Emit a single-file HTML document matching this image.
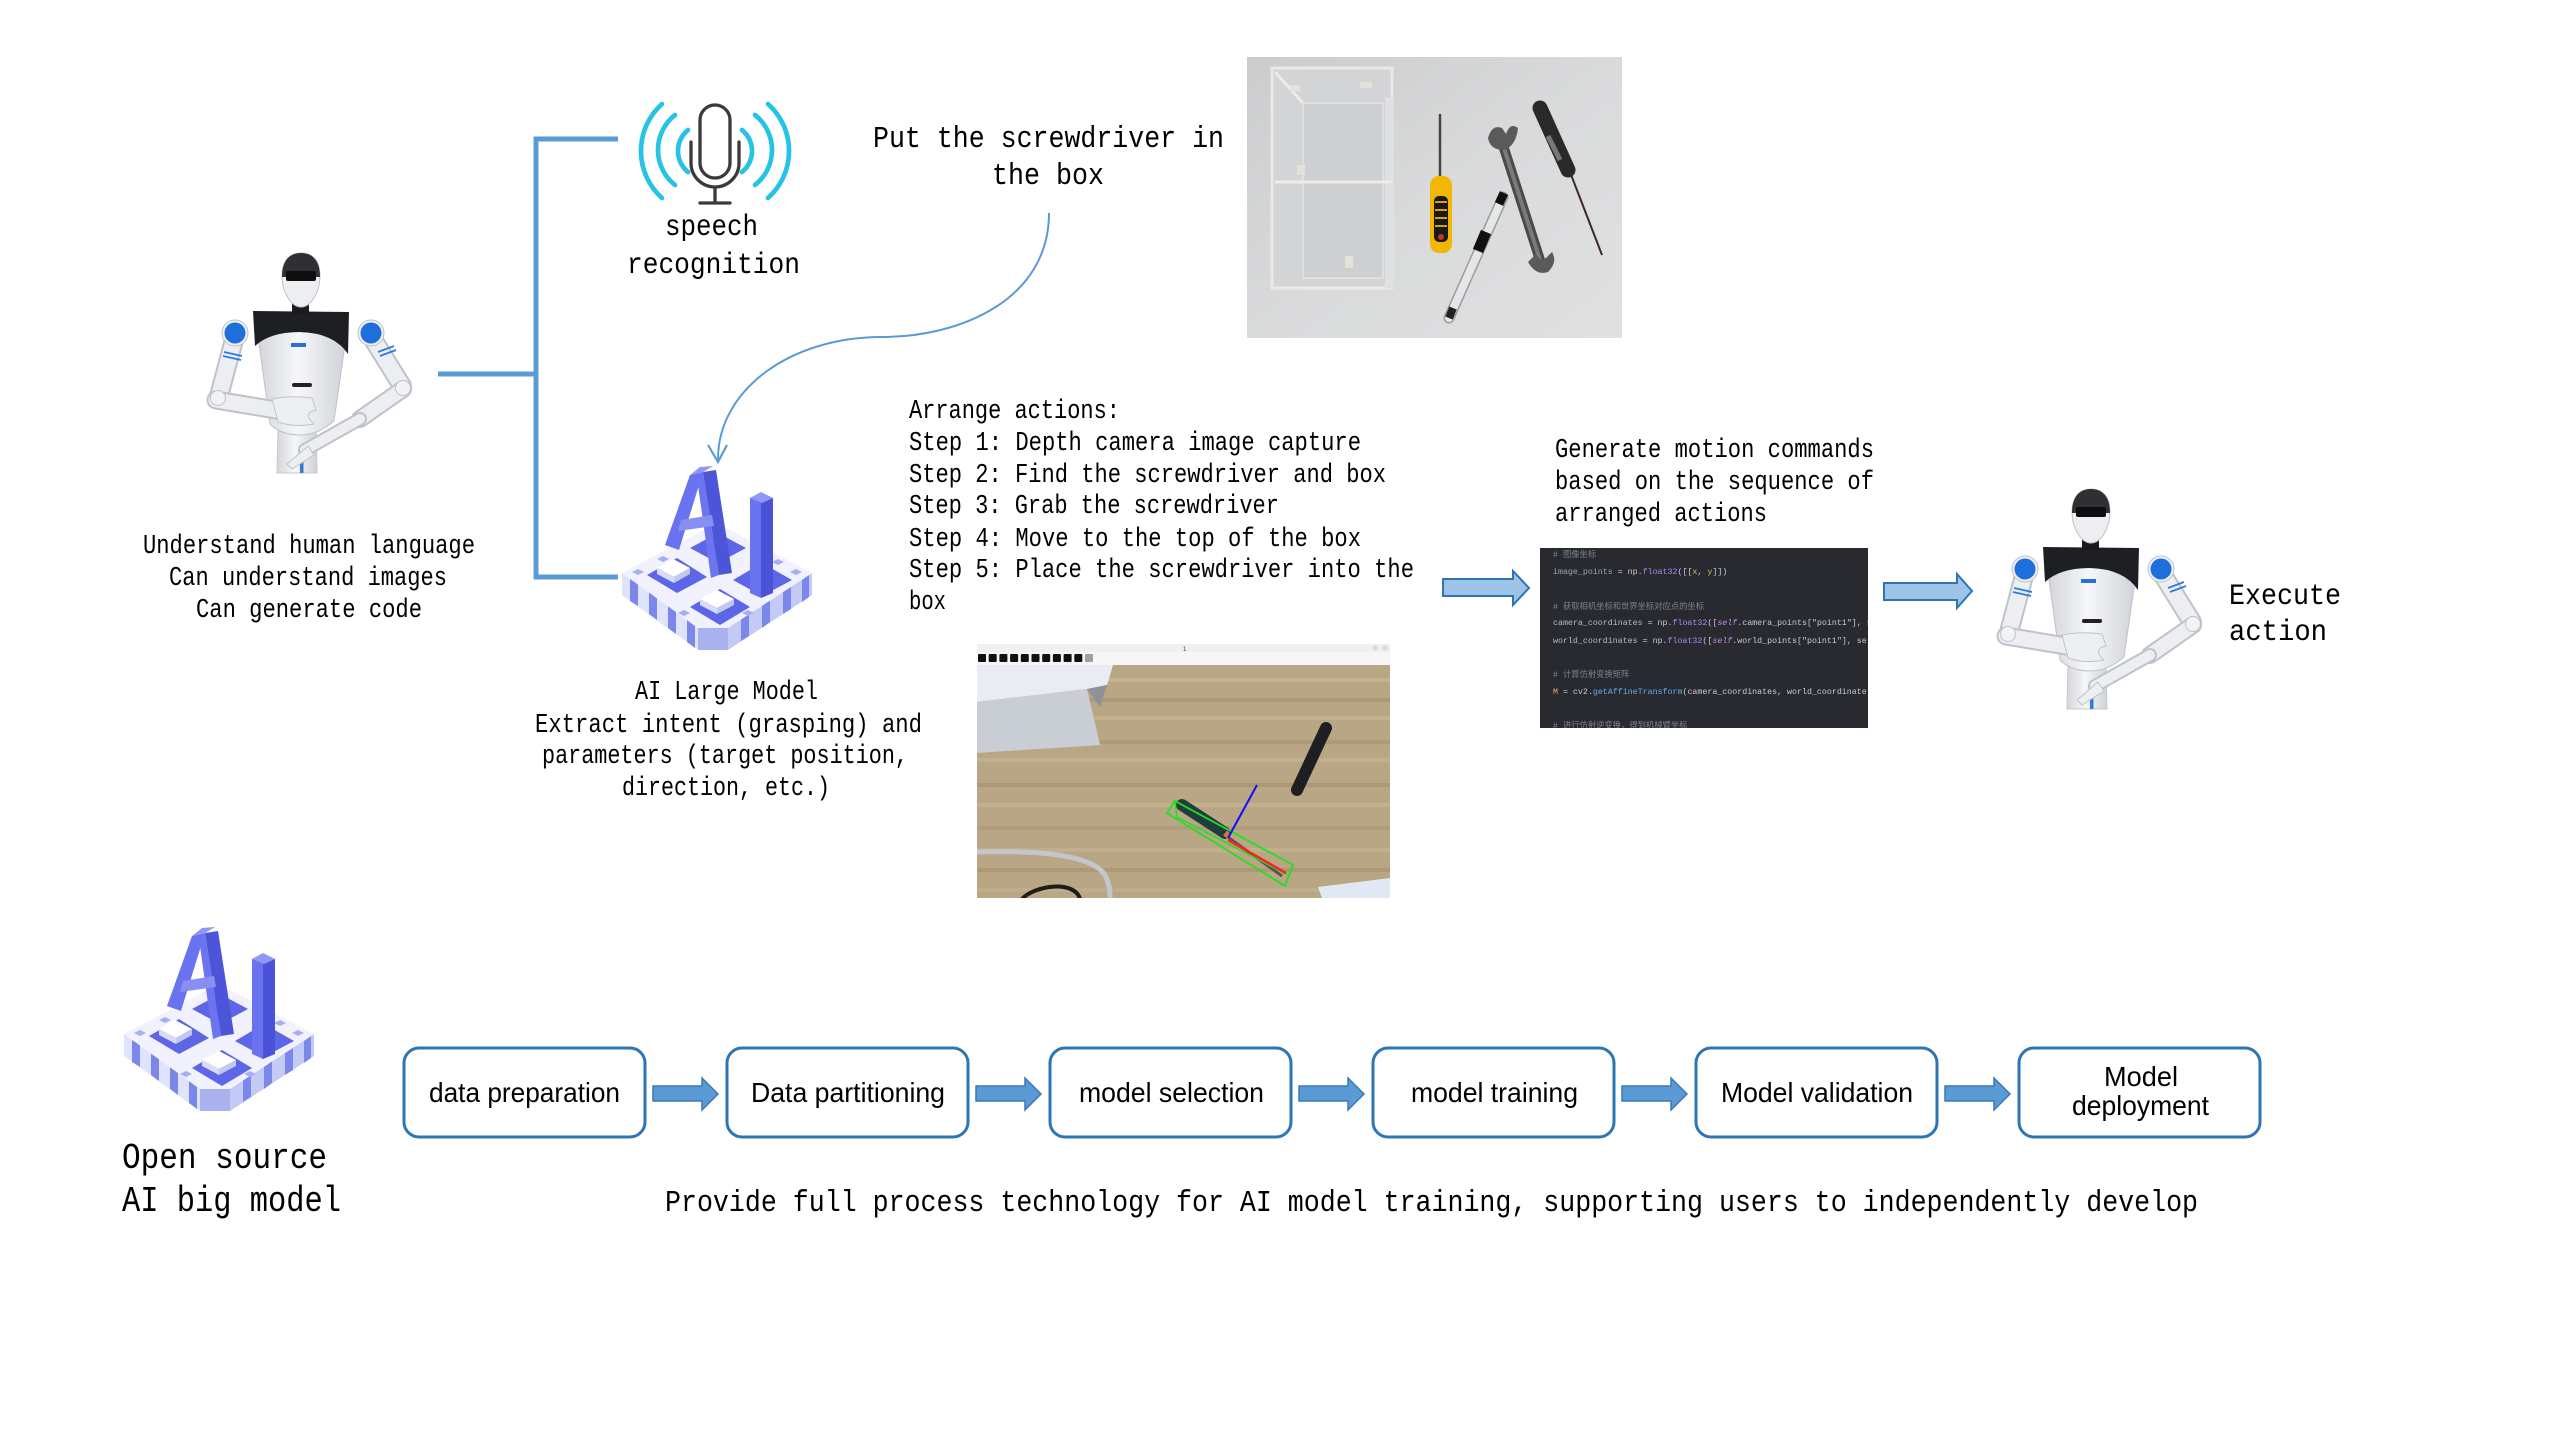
<!DOCTYPE html>
<html>
<head>
<meta charset="utf-8">
<style>
html,body{margin:0;padding:0;background:#fff;overflow:hidden;}
svg{display:block;}
.m{font-family:"Liberation Mono","DejaVu Sans Mono","Noto Sans CJK SC",monospace;fill:#000;}
.s{font-family:"Liberation Sans",Arial,sans-serif;fill:#000;}
.c{font-family:"Liberation Mono","Noto Sans CJK SC",monospace;font-size:8.3px;}
</style>
</head>
<body>
<svg width="2560" height="1440" viewBox="0 0 2560 1440" xmlns="http://www.w3.org/2000/svg">
<defs>
  <linearGradient id="photoBg" x1="0" y1="0" x2="1" y2="1">
    <stop offset="0" stop-color="#cbcccd"/>
    <stop offset="0.5" stop-color="#d9dadb"/>
    <stop offset="1" stop-color="#e0e0e1"/>
  </linearGradient>
  <linearGradient id="torsoG" x1="0" y1="0" x2="1" y2="0">
    <stop offset="0" stop-color="#d3d5da"/>
    <stop offset="0.45" stop-color="#f6f7f9"/>
    <stop offset="1" stop-color="#cfd2d7"/>
  </linearGradient>
  <linearGradient id="armG" x1="0" y1="0" x2="1" y2="0">
    <stop offset="0" stop-color="#d9dbdf"/>
    <stop offset="1" stop-color="#f7f7f9"/>
  </linearGradient>
  <clipPath id="photoClip"><rect x="1247" y="57" width="375" height="281"/></clipPath>
  <clipPath id="shotClip"><rect x="977" y="644" width="413" height="254"/></clipPath>
  <clipPath id="codeClip"><rect x="1540" y="548" width="328" height="180"/></clipPath>

  <g id="robot">
    <path d="M278,425 H316 L317,473 H277 Z" fill="url(#torsoG)" stroke="#c6c9ce"/>
    <rect x="300" y="452" width="3.5" height="21" fill="#2e7be0"/>
    <path d="M258,336 Q300,326 346,338 L334,421 Q318,435 300,435 Q281,435 270,424 Z" fill="url(#torsoG)" stroke="#bfc2c8"/>
    <path d="M253,311 L349,312 L348,354 Q334,333 300,332 Q270,332 255,346 Z" fill="#1e1f22"/>
    <rect x="292" y="302" width="17" height="12" fill="#1a1a1a"/>
    <path d="M282,276 C282,259 291,253 301,253 C312,253 320,260 320,276 C320,292 311,307 301,307 C291,307 282,292 282,276 Z" fill="#eceef1" stroke="#bfc2c8"/>
    <path d="M282,277 C282,259 291,253 301,253 C312,253 320,260 320,277 Z" fill="#2e3034"/>
    <rect x="286" y="271" width="30" height="10" rx="2" fill="#0d0d0d"/>
    <rect x="291" y="343" width="15" height="4" fill="#2a6fd6"/>
    <rect x="292" y="383" width="20" height="4" rx="2" fill="#222"/>
    <g stroke-linecap="round" fill="none">
      <path d="M235,336 L219,396" stroke="#bfc2c8" stroke-width="20"/>
      <path d="M235,336 L219,396" stroke="#eceef1" stroke-width="16"/>
      <path d="M216,400 L276,410" stroke="#bfc2c8" stroke-width="19"/>
      <path d="M216,400 L276,410" stroke="#eceef1" stroke-width="15"/>
      <path d="M371,336 L402,386" stroke="#bfc2c8" stroke-width="20"/>
      <path d="M371,336 L402,386" stroke="#eceef1" stroke-width="16"/>
      <path d="M403,389 L360,419" stroke="#bfc2c8" stroke-width="18"/>
      <path d="M403,389 L360,419" stroke="#eceef1" stroke-width="14"/>
      <path d="M360,419 L305,450" stroke="#bfc2c8" stroke-width="14"/>
      <path d="M360,419 L305,450" stroke="#eceef1" stroke-width="10"/>
    </g>
    <path d="M224,352 L242,356 M223,356 L241,360" stroke="#2e7be0" stroke-width="1.8"/>
    <path d="M378,352 L394,346 M380,356 L396,350" stroke="#2e7be0" stroke-width="1.8"/>
    <path d="M272,399 Q292,395 312,398 L316,410 Q302,413 314,424 Q295,428 278,422 Z" fill="#eceef1" stroke="#bfc2c8"/>
    <path d="M308,446 L287,464 L292,469 L314,455 Z" fill="#eceef1" stroke="#bfc2c8"/>
    <circle cx="403" cy="388" r="7.5" fill="#f2f3f5" stroke="#bfc2c8"/>
    <circle cx="218" cy="398" r="7.5" fill="#f2f3f5" stroke="#bfc2c8"/>
    <circle cx="235" cy="333" r="13" fill="#eef0f3" stroke="#bfc2c8"/>
    <circle cx="235" cy="333" r="10.5" fill="#1f6fdb"/>
    <circle cx="371" cy="333" r="13" fill="#eef0f3" stroke="#bfc2c8"/>
    <circle cx="371" cy="333" r="10.5" fill="#1f6fdb"/>
  </g>

  <g id="ailogo">
    <polygon points="622,573 698,628 698,650 622,595" fill="#dfe3fb"/>
    <polygon points="698,628 728,628 728,650 698,650" fill="#a9b2ef"/>
    <polygon points="728,628 812,573 812,595 728,650" fill="#c3caf5"/>
    <g fill="#7c87ea">
      <polygon points="630,579 638,584 638,606 630,601"/>
      <polygon points="649,592 657,598 657,620 649,614"/>
      <polygon points="668,606 676,612 676,634 668,628"/>
      <polygon points="687,620 695,626 695,648 687,642"/>
      <polygon points="741,619 749,614 749,636 741,641"/>
      <polygon points="762,606 770,600 770,622 762,628"/>
      <polygon points="783,592 791,587 791,609 783,614"/>
      <polygon points="802,580 809,575 809,597 802,602"/>
    </g>
    <polygon points="622,573 717,523 812,573 728,628 698,628" fill="#f1f2fd"/>
    <g fill="#a6aef4">
      <polygon points="632,572 638,569 644,572 638,575"/>
      <polygon points="657,559 663,556 669,559 663,562"/>
      <polygon points="790,572 796,569 802,572 796,575"/>
      <polygon points="772,562 778,559 784,562 778,565"/>
      <polygon points="742,613 748,610 754,613 748,616"/>
      <polygon points="678,613 684,610 690,613 684,616"/>
    </g>
    <polygon points="647,575 677,558 707,577 677,593" fill="#5d66e6"/>
    <polygon points="657,568 673,559 690,568 674,577" fill="#ffffff"/>
    <polygon points="657,568 674,577 674,583 657,574" fill="#d9dcf5"/>
    <polygon points="674,577 690,568 690,574 674,583" fill="#c3c8ef"/>
    <polygon points="690,607 720,589 750,607 720,625" fill="#5d66e6"/>
    <polygon points="700,599 717,590 734,599 717,608" fill="#ffffff"/>
    <polygon points="700,599 717,608 717,614 700,605" fill="#d9dcf5"/>
    <polygon points="717,608 734,599 734,605 717,614" fill="#c3c8ef"/>
    <polygon points="733,580 762,563 792,580 762,596" fill="#5d66e6"/>
    <polygon points="690,548 718,533 746,548 718,563" fill="#5d66e6"/>
    <polygon points="665,545 690,475 703,472 679,550" fill="#6a73ef"/>
    <polygon points="697,478 703,472 719,575 711,578" fill="#6c75ef"/>
    <polygon points="703,472 716,470 732,573 719,575" fill="#4c55d8"/>
    <polygon points="681,520 712,515 714,526 678,531" fill="#8790f2"/>
    <polygon points="690,475 700,467 713,466 703,472" fill="#8e96f5"/>
    <polygon points="750,498 761,493 761,598 750,593" fill="#6a73ef"/>
    <polygon points="761,493 773,498 773,593 761,598" fill="#4a52d6"/>
    <polygon points="750,498 761,492 773,498 762,503" fill="#9098f6"/>
  </g>
</defs>

<rect width="2560" height="1440" fill="#fff"/>

<!-- bracket -->
<g stroke="#5b9bd5" stroke-width="5" fill="none">
  <path d="M618,139 H536 V577 H618"/>
  <path d="M438,374 H536"/>
</g>

<!-- robots -->
<use href="#robot"/>
<use href="#robot" transform="translate(1790,236)"/>

<!-- mic icon -->
<g fill="none" stroke-linecap="round">
  <g stroke="#27c3e6" stroke-width="4.7">
    <path d="M662,104 A63,63 0 0 0 662,198"/>
    <path d="M675,115 A44.5,44.5 0 0 0 675,185"/>
    <path d="M688,130 A27,27 0 0 0 688,172"/>
    <path d="M768,104 A63,63 0 0 1 768,198"/>
    <path d="M755,115 A44.5,44.5 0 0 1 755,185"/>
    <path d="M742,130 A27,27 0 0 1 742,172"/>
  </g>
  <g stroke="#3a3a3a" stroke-width="3.3">
    <rect x="700" y="105" width="30" height="73" rx="15"/>
    <path d="M691,142 V163 A24,24 0 0 0 739,163 V142"/>
    <path d="M715,187 V203 M700,203 H730"/>
  </g>
</g>

<!-- AI logos -->
<use href="#ailogo"/>
<use href="#ailogo" transform="translate(-498,461)"/>

<!-- curved arrow -->
<path d="M1049,213 C1049,300 960,337 882,337 C790,337 718,390 718,459" stroke="#5b9bd5" stroke-width="2" fill="none"/>
<path d="M708,445 L718,462 L727,445" stroke="#5b9bd5" stroke-width="2.2" fill="none"/>

<!-- photo -->
<g clip-path="url(#photoClip)">
  <rect x="1247" y="57" width="375" height="281" fill="url(#photoBg)"/>
  <rect x="1272" y="68" width="120" height="220" fill="#d3d4d6" stroke="#e9e9e9" stroke-width="3"/>
  <rect x="1303" y="103" width="80" height="175" fill="#cdcfd1" stroke="#dedfe0" stroke-width="2"/>
  <rect x="1385" y="97" width="8" height="191" fill="#dfe0e2"/>
  <path d="M1275,72 L1303,103 M1275,182 H1392" stroke="#ececec" stroke-width="3"/>
  <rect x="1290" y="85" width="10" height="6" fill="#e4e2d8"/>
  <rect x="1360" y="82" width="12" height="6" fill="#e4e2d8"/>
  <rect x="1297" y="165" width="8" height="10" fill="#e4e2d8"/>
  <rect x="1345" y="256" width="8" height="12" fill="#e4e2d8"/>
  <path d="M1440,114 L1440,178" stroke="#444" stroke-width="2.5"/>
  <rect x="1430" y="176" width="22" height="77" rx="9" fill="#f2b705"/>
  <rect x="1434" y="196" width="14" height="46" rx="5" fill="#1a1a1a"/>
  <path d="M1435,202 H1447 M1435,210 H1447 M1435,218 H1447 M1435,226 H1447" stroke="#d9a204" stroke-width="2"/>
  <circle cx="1441" cy="237" r="3" fill="#c0392b"/>
  <path d="M1503,197 L1449,318" stroke="#9a9c9e" stroke-width="11" stroke-linecap="round"/>
  <path d="M1503,197 L1449,318" stroke="#e4e6e8" stroke-width="8" stroke-linecap="round"/>
  <path d="M1486,232 L1478,251" stroke="#111" stroke-width="11"/>
  <path d="M1504,193 L1499,204" stroke="#111" stroke-width="9"/>
  <path d="M1453,308 L1449,318" stroke="#222" stroke-width="8"/>
  <path d="M1502,142 L1540,260" stroke="#4a4a4a" stroke-width="10" stroke-linecap="round"/>
  <path d="M1502,142 L1540,260" stroke="#7a7a7a" stroke-width="4"/>
  <path d="M1488,138 Q1492,124 1502,128 L1506,134 Q1510,122 1518,128 Q1516,146 1504,150 Q1490,150 1488,138 Z" fill="#5a5a5a"/>
  <path d="M1528,262 Q1536,276 1548,272 Q1558,262 1552,252 L1546,258 Q1540,262 1536,254 Z" fill="#5a5a5a"/>
  <path d="M1540,108 L1568,170" stroke="#2a2a2a" stroke-width="15" stroke-linecap="round"/>
  <path d="M1548,136 L1560,160" stroke="#787878" stroke-width="5"/>
  <path d="M1570,172 L1602,255" stroke="#3a2a22" stroke-width="2"/>
</g>

<!-- steps text -->
<g class="m" font-size="27">
  <text x="909" y="418" textLength="211" lengthAdjust="spacingAndGlyphs">Arrange actions:</text>
  <text x="909" y="450" textLength="452" lengthAdjust="spacingAndGlyphs">Step 1: Depth camera image capture</text>
  <text x="909" y="482" textLength="477" lengthAdjust="spacingAndGlyphs">Step 2: Find the screwdriver and box</text>
  <text x="909" y="513" textLength="370" lengthAdjust="spacingAndGlyphs">Step 3: Grab the screwdriver</text>
  <text x="909" y="546" textLength="452" lengthAdjust="spacingAndGlyphs">Step 4: Move to the top of the box</text>
  <text x="909" y="577" textLength="505" lengthAdjust="spacingAndGlyphs">Step 5: Place the screwdriver into the</text>
  <text x="909" y="609" textLength="37" lengthAdjust="spacingAndGlyphs">box</text>
</g>

<!-- middle screenshot -->
<g clip-path="url(#shotClip)">
  <rect x="977" y="644" width="413" height="254" fill="#b9a684"/>
  <g stroke-width="4" opacity="0.55">
    <path d="M977,680 H1390" stroke="#cfbd99"/>
    <path d="M977,700 H1390" stroke="#a28c6c"/>
    <path d="M977,718 H1390" stroke="#cebc98"/>
    <path d="M977,742 H1390" stroke="#a89372"/>
    <path d="M977,760 H1390" stroke="#cab794"/>
    <path d="M977,785 H1390" stroke="#a38d6c"/>
    <path d="M977,805 H1390" stroke="#ccb996"/>
    <path d="M977,828 H1390" stroke="#ab9674"/>
    <path d="M977,850 H1390" stroke="#c8b592"/>
    <path d="M977,870 H1390" stroke="#a6906e"/>
    <path d="M977,890 H1390" stroke="#c5b18e"/>
  </g>
  <polygon points="977,665 1113,665 1107,685 1087,689 977,702" fill="#e9edf3"/>
  <polygon points="977,702 1087,689 1100,745 977,753" fill="#c9cdd4"/>
  <polygon points="1087,689 1107,685 1100,707" fill="#8d9299"/>
  <path d="M977,852 C1040,850 1092,855 1105,875 C1110,885 1110,893 1110,898" stroke="#c3c7cc" stroke-width="5" fill="none"/>
  <path d="M1022,899 C1035,885 1075,880 1080,899" stroke="#1c1c1c" stroke-width="4" fill="none"/>
  <polygon points="1318,887 1390,878 1390,898 1322,898" fill="#e2e8f3"/>
  <path d="M1326,728 L1297,790" stroke="#1d1f22" stroke-width="12" stroke-linecap="round"/>
  <path d="M1182,805 L1225,833" stroke="#1f3d3a" stroke-width="12" stroke-linecap="round"/>
  <path d="M1225,833 L1230,837" stroke="#d4793a" stroke-width="6"/>
  <path d="M1229,838 L1282,876" stroke="#555" stroke-width="3"/>
  <polygon points="1167,813 1175,801 1293,865 1285,886" fill="none" stroke="#22e022" stroke-width="1.8"/>
  <path d="M1177,817 L1288,875 M1175,801 L1177,817" stroke="#22e022" stroke-width="1.5" fill="none"/>
  <path d="M1228,840 L1286,873" stroke="#ff2020" stroke-width="2.5"/>
  <path d="M1228,838 L1257,785" stroke="#1010ff" stroke-width="2"/>
  <rect x="977" y="644" width="413" height="8" fill="#f0f0f0"/>
  <rect x="977" y="652" width="413" height="13" fill="#f6f6f6"/>
  <text x="1183" y="651" font-family="Liberation Sans,sans-serif" font-size="6" fill="#444">1</text>
  <circle cx="1375" cy="648" r="2.5" fill="#d8d8d8"/>
  <circle cx="1385" cy="648" r="2.5" fill="#d8d8d8"/>
  <g fill="#111">
    <rect x="978" y="654" width="8" height="8" rx="1"/>
    <rect x="988.7" y="654" width="8" height="8" rx="1"/>
    <rect x="999.4" y="654" width="8" height="8" rx="1"/>
    <rect x="1010.1" y="654" width="8" height="8" rx="1"/>
    <rect x="1020.8" y="654" width="8" height="8" rx="1"/>
    <rect x="1031.5" y="654" width="8" height="8" rx="1"/>
    <rect x="1042.2" y="654" width="8" height="8" rx="1"/>
    <rect x="1052.9" y="654" width="8" height="8" rx="1"/>
    <rect x="1063.6" y="654" width="8" height="8" rx="1"/>
    <rect x="1074.3" y="654" width="8" height="8" rx="1"/>
  </g>
  <rect x="1085" y="654" width="8" height="8" rx="1" fill="#a0a0a0"/>
</g>

<!-- code screenshot -->
<g clip-path="url(#codeClip)">
  <rect x="1540" y="548" width="328" height="180" fill="#282a30"/>
  <g class="c">
    <text x="1553" y="557" fill="#7d828c"># 图像坐标</text>
    <text x="1553" y="574"><tspan fill="#9aa3b5">image_points</tspan><tspan fill="#c8ccd4"> = np.</tspan><tspan fill="#a68bf0">float32</tspan><tspan fill="#c8ccd4">([[</tspan><tspan fill="#d9b86a">x</tspan><tspan fill="#c8ccd4">, </tspan><tspan fill="#d9b86a">y</tspan><tspan fill="#c8ccd4">]])</tspan></text>
    <text x="1553" y="609" fill="#7d828c"># 获取相机坐标和世界坐标对应点的坐标</text>
    <text x="1553" y="625"><tspan fill="#b4bccb">camera_coordinates</tspan><tspan fill="#c8ccd4"> = np.</tspan><tspan fill="#a68bf0">float32</tspan><tspan fill="#c8ccd4">([</tspan><tspan fill="#c58be8" font-style="italic">self</tspan><tspan fill="#c8ccd4">.camera_points["point1"], s</tspan></text>
    <text x="1553" y="643"><tspan fill="#b4bccb">world_coordinates</tspan><tspan fill="#c8ccd4"> = np.</tspan><tspan fill="#a68bf0">float32</tspan><tspan fill="#c8ccd4">([</tspan><tspan fill="#c58be8" font-style="italic">self</tspan><tspan fill="#c8ccd4">.world_points["point1"], se</tspan></text>
    <text x="1553" y="677" fill="#7d828c"># 计算仿射变换矩阵</text>
    <text x="1553" y="694"><tspan fill="#d9b86a">M</tspan><tspan fill="#c8ccd4"> = cv2.</tspan><tspan fill="#61afef">getAffineTransform</tspan><tspan fill="#c8ccd4">(camera_coordinates, world_coordinate</tspan></text>
    <text x="1553" y="728" fill="#7d828c"># 进行仿射逆变换，得到机械臂坐标</text>
  </g>
</g>

<!-- top block arrows -->
<path d="M1443,579 H1513 V571 L1529,588 L1513,605 V596 H1443 Z" fill="#9dc3e6" stroke="#2e75b6" stroke-width="2"/>
<path d="M1884,583 H1957 V574 L1972,591 L1957,608 V600 H1884 Z" fill="#9dc3e6" stroke="#2e75b6" stroke-width="2"/>

<!-- texts -->
<g class="m">
  <text x="665" y="235" font-size="30" textLength="93" lengthAdjust="spacingAndGlyphs">speech</text>
  <text x="627" y="273" font-size="30" textLength="173" lengthAdjust="spacingAndGlyphs">recognition</text>
  <text x="873" y="147" font-size="31" textLength="351" lengthAdjust="spacingAndGlyphs">Put the screwdriver in</text>
  <text x="992" y="184" font-size="31" textLength="112" lengthAdjust="spacingAndGlyphs">the box</text>
  <text x="143" y="553" font-size="27" textLength="332" lengthAdjust="spacingAndGlyphs">Understand human language</text>
  <text x="169" y="585" font-size="27" textLength="278" lengthAdjust="spacingAndGlyphs">Can understand images</text>
  <text x="196" y="617" font-size="27" textLength="226" lengthAdjust="spacingAndGlyphs">Can generate code</text>
  <text x="635" y="699" font-size="27" textLength="183" lengthAdjust="spacingAndGlyphs">AI Large Model</text>
  <text x="535" y="732" font-size="27" textLength="387" lengthAdjust="spacingAndGlyphs">Extract intent (grasping) and</text>
  <text x="542" y="763" font-size="27" textLength="366" lengthAdjust="spacingAndGlyphs">parameters (target position,</text>
  <text x="622" y="795" font-size="27" textLength="208" lengthAdjust="spacingAndGlyphs">direction, etc.)</text>
  <text x="1555" y="457" font-size="27" textLength="319" lengthAdjust="spacingAndGlyphs">Generate motion commands</text>
  <text x="1555" y="489" font-size="27" textLength="319" lengthAdjust="spacingAndGlyphs">based on the sequence of</text>
  <text x="1555" y="521" font-size="27" textLength="212" lengthAdjust="spacingAndGlyphs">arranged actions</text>
  <text x="2229" y="604" font-size="30" textLength="112" lengthAdjust="spacingAndGlyphs">Execute</text>
  <text x="2229" y="640" font-size="30" textLength="98" lengthAdjust="spacingAndGlyphs">action</text>
  <text x="122" y="1168" font-size="36" textLength="205" lengthAdjust="spacingAndGlyphs">Open source</text>
  <text x="122" y="1211" font-size="36" textLength="219" lengthAdjust="spacingAndGlyphs">AI big model</text>
  <text x="665" y="1211" font-size="31" textLength="1533" lengthAdjust="spacingAndGlyphs">Provide full process technology for AI model training, supporting users to independently develop</text>
</g>

<!-- process boxes -->
<g fill="#fff" stroke="#2e75b6" stroke-width="3">
  <rect x="404" y="1048" width="241" height="89" rx="15"/>
  <rect x="727" y="1048" width="241" height="89" rx="15"/>
  <rect x="1050" y="1048" width="241" height="89" rx="15"/>
  <rect x="1373" y="1048" width="241" height="89" rx="15"/>
  <rect x="1696" y="1048" width="241" height="89" rx="15"/>
  <rect x="2019" y="1048" width="241" height="89" rx="15"/>
</g>
<g fill="#5b9bd5" stroke="#3c78b5" stroke-width="1.5">
  <path d="M653,1086 H702 V1078 L718,1094 L702,1110 V1101 H653 Z"/>
  <path d="M976,1086 H1025 V1078 L1041,1094 L1025,1110 V1101 H976 Z"/>
  <path d="M1299,1086 H1348 V1078 L1364,1094 L1348,1110 V1101 H1299 Z"/>
  <path d="M1622,1086 H1671 V1078 L1687,1094 L1671,1110 V1101 H1622 Z"/>
  <path d="M1945,1086 H1994 V1078 L2010,1094 L1994,1110 V1101 H1945 Z"/>
</g>
<g class="s" font-size="28">
  <text x="429" y="1102" textLength="191" lengthAdjust="spacingAndGlyphs">data preparation</text>
  <text x="751" y="1102" textLength="194" lengthAdjust="spacingAndGlyphs">Data partitioning</text>
  <text x="1079" y="1102" textLength="185" lengthAdjust="spacingAndGlyphs">model selection</text>
  <text x="1411" y="1102" textLength="167" lengthAdjust="spacingAndGlyphs">model training</text>
  <text x="1721" y="1102" textLength="192" lengthAdjust="spacingAndGlyphs">Model validation</text>
  <text x="2104" y="1086" textLength="74" lengthAdjust="spacingAndGlyphs">Model</text>
  <text x="2072" y="1115" textLength="137" lengthAdjust="spacingAndGlyphs">deployment</text>
</g>
</svg>
</body>
</html>
